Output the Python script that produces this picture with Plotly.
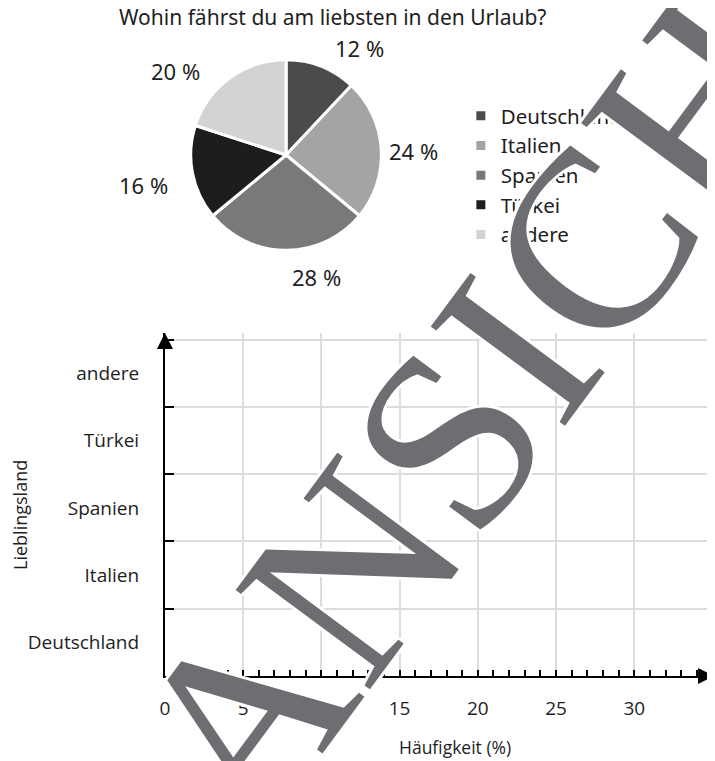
import plotly.graph_objects as go
import numpy as np

# ---- data ----
countries = ["Deutschland", "Italien", "Spanien", "Türkei", "andere"]
shares = [12, 24, 28, 16, 20]
pie_colors = ["#4b4b4b", "#a4a4a4", "#797979", "#1d1d1d", "#d3d3d3"]
x_tick_values = [0, 5, 10, 15, 20, 25, 30]
x_axis_end = 35
title_text = "Wohin fährst du am liebsten in den Urlaub?"
x_title = "Häufigkeit (%)"
y_title = "Lieblingsland"
watermark = "ANSICHT"

W, H = 715, 761
OFF = 8  # page body margin of the viewer


def px(x):
    return (x - OFF) / W


def py(y):
    return 1 - (y - OFF) / H


TOP_FONT = "Noto Sans"
BOT_FONT = "Open Sans"
TXT = "#1e1e1e"

fig = go.Figure()

# ---- pie ----
pie_cx, pie_cy, pie_r = 283, 155, 96
fig.add_trace(go.Pie(
    labels=countries, values=shares, sort=False, direction="clockwise", rotation=0,
    marker=dict(colors=pie_colors, line=dict(color="white", width=3)),
    textinfo="none", hoverinfo="label+percent",
    domain=dict(x=[px(pie_cx - pie_r), px(pie_cx + pie_r)],
                y=[py(pie_cy + pie_r), py(pie_cy - pie_r)]),
    showlegend=True,
))

# pie percentage labels, placed around each slice's mid angle (hand-tuned nudges)
vals = np.array(shares, dtype=float)
mid_deg = (np.cumsum(vals) - vals / 2) / vals.sum() * 360
angle_nudge = [13, 2, -14, -1, -17]
radius_factor = [1.36, 1.34, 1.31, 1.53, 1.45]
annotations = []
for v, a, da, rf in zip(shares, mid_deg, angle_nudge, radius_factor):
    ang = np.deg2rad(a + da)
    lx = pie_cx + pie_r * rf * np.sin(ang)
    ly = pie_cy - pie_r * rf * np.cos(ang)
    annotations.append(dict(
        text=f"{v} %", x=px(lx), y=py(ly), xref="paper", yref="paper",
        showarrow=False, xanchor="center", yanchor="middle",
        font=dict(family=TOP_FONT, size=22, color=TXT)))

# title
annotations.append(dict(text=title_text, x=px(330), y=py(17), xref="paper", yref="paper",
                        showarrow=False, xanchor="center", yanchor="middle",
                        font=dict(family=TOP_FONT, size=21, color=TXT)))

# axis titles
annotations.append(dict(text=x_title, x=px(453), xref="paper", y=py(747), yref="paper",
                        showarrow=False, xanchor="center", yanchor="middle",
                        font=dict(family=BOT_FONT, size=17.5, color=TXT)))
annotations.append(dict(text=y_title, x=px(15), xref="paper", y=py(515), yref="paper",
                        showarrow=False, xanchor="center", yanchor="middle", textangle=-90,
                        font=dict(family=BOT_FONT, size=18, color=TXT)))

# axis arrows
annotations.append(dict(x=1, y=0, xref="x domain", yref="y domain", ax=-14, ay=0,
                        showarrow=True, arrowhead=2, arrowsize=1.6, arrowwidth=2,
                        arrowcolor="black", text=""))
annotations.append(dict(x=0, y=1, xref="x domain", yref="y domain", ax=0, ay=14,
                        showarrow=True, arrowhead=2, arrowsize=1.6, arrowwidth=2,
                        arrowcolor="black", text=""))

# watermark
halo = ", ".join(f"{dx}px {dy}px 0 white" for dx, dy in
                 [(3, 0), (-3, 0), (0, 3), (0, -3), (2, 2), (-2, 2), (2, -2), (-2, -2)])
annotations.append(dict(text=watermark, x=px(514), y=py(348), xref="paper", yref="paper",
                        showarrow=False, xanchor="center", yanchor="middle", textangle=-53.5,
                        font=dict(family="Liberation Serif", size=255, color="#6d6e71",
                                  shadow=halo)))

# ---- empty grid chart ----
n = len(countries)
fig.add_trace(go.Scatter(x=[None], y=[None], showlegend=False, hoverinfo="skip"))

grid_vals = x_tick_values + [x_axis_end]
grid_text = [str(v) for v in x_tick_values] + [""]

fig.update_layout(
    width=W, height=H,
    margin=dict(l=0, r=0, t=0, b=0),
    paper_bgcolor="white", plot_bgcolor="white",
    showlegend=True,
    legend=dict(x=px(459), y=py(96), xanchor="left", yanchor="top",
                font=dict(family=TOP_FONT, size=20.5, color=TXT),
                bgcolor="rgba(0,0,0,0)", tracegroupgap=0),
    xaxis=dict(domain=[px(161), px(714)], range=[0, x_axis_end + 0.1],
               tickvals=grid_vals, ticktext=grid_text,
               showgrid=True, gridcolor="#dcdcdc", gridwidth=1.5, zeroline=False,
               showline=True, linecolor="black", linewidth=2,
               ticks="inside", ticklen=6, tickwidth=1.5, tickcolor="black",
               ticklabelstandoff=14,
               minor=dict(dtick=1, ticks="inside", ticklen=6, tickwidth=1.5,
                          tickcolor="black", showgrid=False),
               tickfont=dict(family=BOT_FONT, size=19, color=TXT), fixedrange=True),
    yaxis=dict(domain=[py(676), py(333)], range=[0, n + 0.1],
               tickvals=[i + 0.5 for i in range(n)], ticktext=countries,
               showgrid=False, zeroline=False,
               showline=True, linecolor="black", linewidth=2,
               ticks="", ticklabelstandoff=20,
               minor=dict(tickvals=list(range(1, n + 1)), ticks="inside", ticklen=9,
                          tickwidth=1.5, tickcolor="black", showgrid=True,
                          gridcolor="#dcdcdc", gridwidth=1.5),
               tickfont=dict(family=BOT_FONT, size=19, color=TXT), fixedrange=True),
    annotations=annotations,
)

fig.write_html("out.html")
